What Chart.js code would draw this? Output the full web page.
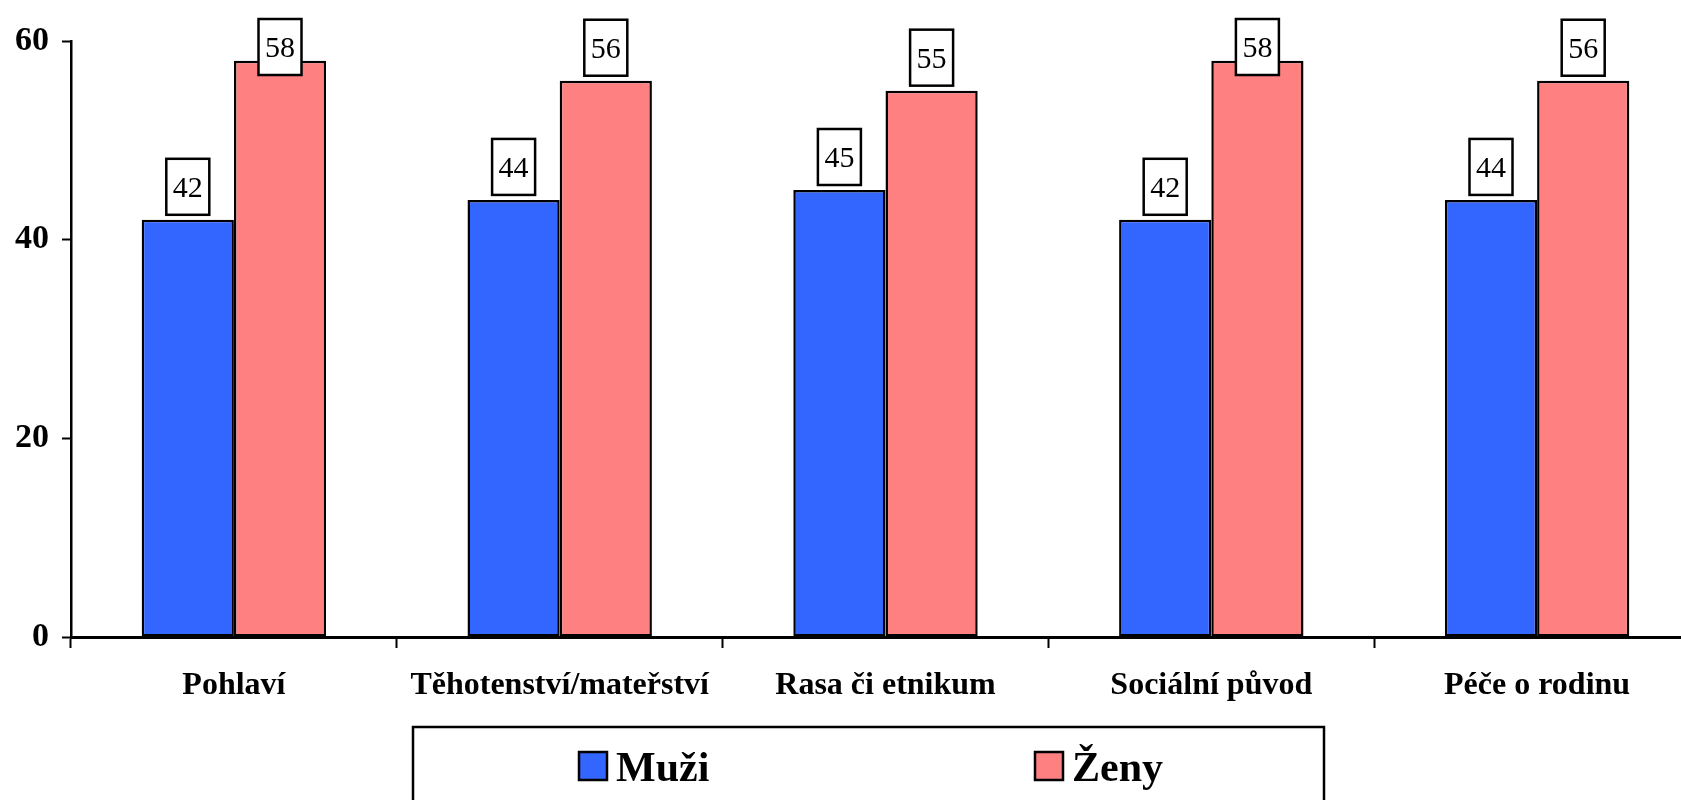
<!DOCTYPE html>
<html>
<head>
<meta charset="utf-8">
<script src="https://cdn.jsdelivr.net/npm/chart.js@4/dist/chart.umd.min.js"></script>
<style>
  html, body { margin: 0; padding: 0; background: #fff; overflow: hidden; }
  #wrap { width: 1720px; height: 800px; }
</style>
</head>
<body>
<div id="wrap"><canvas id="chart" width="1720" height="800"></canvas></div>
<script>
// ==================================================
// DATA
// ==================================================
const categories = [
  "Pohlaví",
  "Těhotenství/mateřství",
  "Rasa či etnikum",
  "Sociální původ",
  "Péče o rodinu",
];
const muzi = [42, 44, 45, 42, 44];
const zeny = [58, 56, 55, 58, 56];
const seriesNames = ["Muži", "Ženy"];
const yTicks = [0, 20, 40, 60];

const SERIF = "'Liberation Serif', 'Times New Roman', serif";

// ==================================================
// PLUGINS
// ==================================================
// boxed value labels above each bar
const valueBoxes = {
  id: "valueBoxes",
  afterDatasetsDraw(chart) {
    const ctx = chart.ctx;
    const top = chart.chartArea.top;
    ctx.save();
    ctx.font = "30px " + SERIF;
    ctx.textAlign = "center";
    ctx.textBaseline = "middle";
    chart.data.datasets.forEach((ds, i) => {
      chart.getDatasetMeta(i).data.forEach((bar, j) => {
        const w = 43, h = 56;
        let cy = bar.y - 33;
        if (cy - h / 2 < top - 22) cy = top - 22 + h / 2;
        const x = bar.x - w / 2, y = cy - h / 2;
        ctx.fillStyle = "#fff";
        ctx.fillRect(x, y, w, h);
        ctx.strokeStyle = "#000";
        ctx.lineWidth = 2.5;
        ctx.strokeRect(x, y, w, h);
        ctx.fillStyle = "#000";
        ctx.fillText(String(ds.data[j]), bar.x, cy + 2);
      });
    });
    ctx.restore();
  },
};

// framed legend at the bottom
const boxLegend = {
  id: "boxLegend",
  afterDraw(chart) {
    const ctx = chart.ctx;
    ctx.save();
    ctx.strokeStyle = "#000";
    ctx.lineWidth = 2.5;
    ctx.strokeRect(413, 727, 911, 100);
    const xs = [579, 1035];
    ctx.font = "bold 42px " + SERIF;
    ctx.textBaseline = "alphabetic";
    ctx.textAlign = "left";
    chart.data.datasets.forEach((ds, i) => {
      ctx.fillStyle = ds.backgroundColor;
      ctx.fillRect(xs[i], 752, 28, 28);
      ctx.strokeStyle = "#000";
      ctx.lineWidth = 2.5;
      ctx.strokeRect(xs[i], 752, 28, 28);
      ctx.fillStyle = "#000";
      ctx.fillText(ds.label, xs[i] + 37, 781);
    });
    ctx.restore();
  },
};

// ==================================================
// CHART
// ==================================================
const ctx = document.getElementById("chart").getContext("2d");
const myChart = new Chart(ctx, {
  type: "bar",
  data: {
    labels: categories,
    datasets: [
      {
        label: seriesNames[0],
        data: muzi,
        backgroundColor: "#3366FF",
        borderColor: "#000",
        borderWidth: 2.5,
        borderSkipped: false,
      },
      {
        label: seriesNames[1],
        data: zeny,
        backgroundColor: "#FF8080",
        borderColor: "#000",
        borderWidth: 2.5,
        borderSkipped: false,
      },
    ],
  },
  options: {
    responsive: false,
    devicePixelRatio: 1,
    animation: false,
    categoryPercentage: 0.566,
    barPercentage: 1.0,
    layout: { padding: { top: 41, right: 20, bottom: 73, left: 0 } },
    plugins: {
      legend: { display: false },
      tooltip: { enabled: false },
    },
    scales: {
      x: {
        clip: false,
        afterFit: (scale) => { scale.height = 90; },
        grid: {
          display: true,
          offset: true,
          drawOnChartArea: false,
          tickLength: 11,
          tickWidth: 2,
          tickColor: "#000",
        },
        border: { display: true, color: "#000", width: 3 },
        ticks: {
          color: "#000",
          padding: 19,
          maxRotation: 0,
          font: { family: SERIF, size: 32, weight: "bold" },
        },
      },
      y: {
        min: 0,
        max: 60,
        afterFit: (scale) => { scale.width = 71; },
        afterBuildTicks: (scale) => {
          scale.ticks = yTicks.map((v) => ({ value: v }));
        },
        grid: {
          display: true,
          drawOnChartArea: false,
          tickLength: 9,
          tickWidth: 2,
          tickColor: "#000",
        },
        border: { display: true, color: "#000", width: 2.5 },
        ticks: {
          color: "#000",
          padding: 13,
          font: { family: SERIF, size: 34, weight: "bold" },
        },
      },
    },
  },
  plugins: [valueBoxes, boxLegend],
});
</script>
</body>
</html>
